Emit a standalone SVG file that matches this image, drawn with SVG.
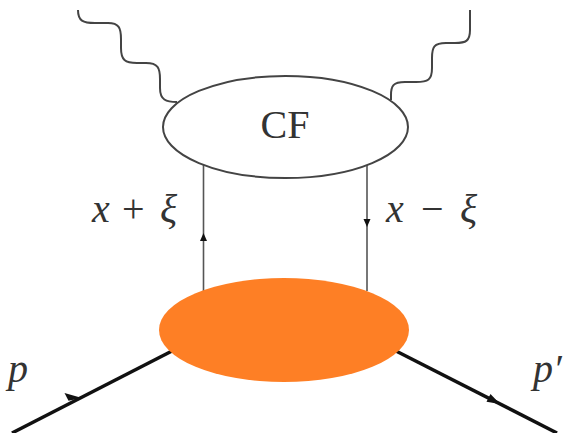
<svg xmlns="http://www.w3.org/2000/svg" width="564" height="433" viewBox="0 0 564 433">
<style>
.thin{fill:none;stroke:#555;stroke-width:1.6}
.wave{fill:none;stroke:#444;stroke-width:2}
.thick{fill:none;stroke:#111;stroke-width:3.5}
.m{font-family:"Liberation Serif","DejaVu Serif",serif;font-size:40px;fill:#333}
.i{font-style:italic}
</style>
<rect width="564" height="433" fill="#fff"/>
<g id="connectors">
<path class="wave" d="M78,10 C78,21 83,23 95,23 L108,23 C119,23 121,28 121,39 L121,48 C121,60 125,63 137,63 L146,63 C158,63 160,68 160,79 L160,88 C160,100 166,102 177,102"/>
<path class="wave" d="M470,10 L470,30 C470,41 466,43 455,43 L446,43 C434,43 432,47 432,58 L432,68 C432,80 428,82 416,82 L405,82 C393,82 391,86 391,95 L391,100"/>
<line class="thin" x1="203.5" y1="165" x2="203.5" y2="291"/>
<line class="thin" x1="367" y1="165" x2="367" y2="291"/>
<path d="M203.5,233 L207,241 L200,241 z" fill="#111"/>
<path d="M367,227 L370.5,219 L363.5,219 z" fill="#111"/>
<line class="thick" x1="12" y1="433" x2="172" y2="351"/>
<line class="thick" x1="396" y1="351" x2="557" y2="433"/>
<path d="M82,398 L68.5,400.8 L64.5,393 z" fill="#111"/>
<path d="M500,404 L490.5,394 L486.5,401.8 z" fill="#111"/>
</g>
<g id="blob">
<ellipse cx="284" cy="330" rx="125" ry="52" fill="#FE7F25"/>
</g>
<g id="cf">
<ellipse cx="285.5" cy="127" rx="122.5" ry="51" fill="#fff" stroke="#444" stroke-width="2"/>
<text class="m" x="285" y="138" text-anchor="middle" font-size="34">CF</text>
</g>
<g id="labels">
<text class="m"><tspan class="i" x="92" y="222">x</tspan><tspan x="122" y="222">+</tspan><tspan class="i" x="160" y="222">ξ</tspan></text>
<text class="m"><tspan class="i" x="386" y="222">x</tspan><tspan x="421" y="222">−</tspan><tspan class="i" x="460" y="222">ξ</tspan></text>
<text class="m i" x="8" y="382">p</text>
<text class="m i" x="533" y="382">p′</text>
</g>
</svg>
